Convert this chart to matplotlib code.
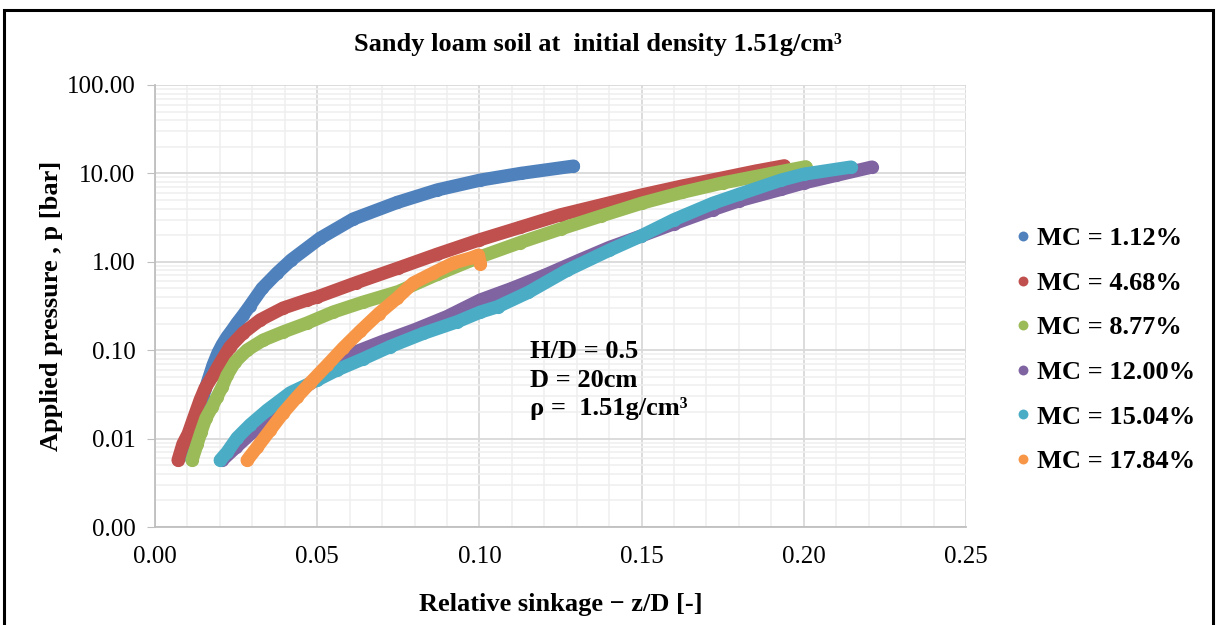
import matplotlib
matplotlib.use("Agg")
import matplotlib.pyplot as plt
from matplotlib.patches import Rectangle
from matplotlib.ticker import FixedLocator, FuncFormatter, MultipleLocator, LogLocator
import numpy as np

plt.rcParams['font.family'] = ['Liberation Serif', 'DejaVu Serif']

# series (relative sinkage z/D, applied pressure in bar)
labels = ["MC = 1.12%", "MC = 4.68%", "MC = 8.77%", "MC = 12.00%", "MC = 15.04%", "MC = 17.84%"]
colors = ["#4f81bd", "#c0504d", "#9bbb59", "#8064a2", "#4bacc6", "#f79646"]

x_mc1 = [0.0102, 0.0120, 0.0130, 0.0140, 0.0148, 0.0164, 0.0179, 0.0194, 0.0207, 0.0222, 0.0238,
         0.0253, 0.0272, 0.0293, 0.0330, 0.0377, 0.0420, 0.0509, 0.0611, 0.0747, 0.0870, 0.1003,
         0.1127, 0.1290]
p_mc1 = [0.0065, 0.0095, 0.0116, 0.020, 0.030, 0.046, 0.068, 0.093, 0.115, 0.141, 0.169,
         0.203, 0.25, 0.32, 0.50, 0.75, 1.05, 1.85, 3.05, 4.7, 6.5, 8.4,
         10.0, 12.1]

x_mc2 = [0.0071, 0.0086, 0.0102, 0.0117, 0.0139, 0.0154, 0.0179, 0.0201, 0.0231, 0.0272, 0.0324,
         0.0395, 0.0469, 0.0500, 0.0620, 0.0750, 0.0870, 0.1000, 0.1125, 0.1250, 0.1375, 0.1500,
         0.1625, 0.1750, 0.1850, 0.1940]
p_mc2 = [0.0057, 0.0087, 0.0113, 0.0162, 0.0273, 0.037, 0.052, 0.072, 0.109, 0.157, 0.22,
         0.30, 0.37, 0.40, 0.58, 0.85, 1.22, 1.77, 2.45, 3.4, 4.4, 5.7,
         7.2, 8.9, 10.6, 12.2]

x_mc3 = [0.0114, 0.0130, 0.0142, 0.0157, 0.0176, 0.0191, 0.0207, 0.0222, 0.0247, 0.0284, 0.0333,
         0.0395, 0.0469, 0.0549, 0.0642, 0.0750, 0.0870, 0.1000, 0.1125, 0.1250, 0.1375, 0.1500,
         0.1625, 0.1750, 0.1900, 0.2006]
p_mc3 = [0.0057, 0.0087, 0.0119, 0.0171, 0.0228, 0.0296, 0.0384, 0.052, 0.074, 0.1005, 0.130,
         0.161, 0.203, 0.27, 0.35, 0.46, 0.72, 1.13, 1.65, 2.35, 3.3, 4.6,
         6.1, 7.8, 10.0, 11.9]

x_mc4 = [0.0207, 0.025, 0.030, 0.035, 0.040, 0.045, 0.050, 0.055, 0.060, 0.070, 0.080, 0.090,
         0.1003, 0.110, 0.120, 0.131, 0.140, 0.1497, 0.160, 0.172, 0.180, 0.193, 0.200, 0.210, 0.221]
p_mc4 = [0.0057, 0.0080, 0.0118, 0.0175, 0.025, 0.035, 0.048, 0.068, 0.090, 0.125, 0.17, 0.24,
         0.37, 0.50, 0.70, 1.05, 1.45, 1.95, 2.7, 3.9, 4.9, 6.6, 7.8, 9.5, 11.8]

x_mc5 = [0.0201, 0.0222, 0.0253, 0.0293, 0.0346, 0.0417, 0.0500, 0.0562, 0.0642, 0.0725, 0.0827,
         0.0932, 0.1003, 0.1056, 0.1150, 0.1270, 0.1400, 0.1497, 0.1600, 0.1720, 0.1800, 0.1930,
         0.2000, 0.2145]
p_mc5 = [0.0057, 0.0070, 0.0102, 0.0143, 0.021, 0.033, 0.046, 0.060, 0.080, 0.11, 0.155,
         0.21, 0.27, 0.31, 0.45, 0.80, 1.35, 1.95, 3.0, 4.6, 5.8, 8.4,
         9.8, 11.8]

x_mc6 = [0.0284, 0.0315, 0.0355, 0.0395, 0.0438, 0.0478, 0.0531, 0.0580, 0.0633, 0.0690, 0.0747,
         0.0796, 0.0858, 0.0920, 0.0972, 0.0997, 0.1003]
p_mc6 = [0.0057, 0.0080, 0.0125, 0.0195, 0.0296, 0.0426, 0.068, 0.106, 0.165, 0.26, 0.39,
         0.575, 0.75, 0.97, 1.10, 1.19, 0.95]

xs = [x_mc1, x_mc2, x_mc3, x_mc4, x_mc5, x_mc6]
ps = [p_mc1, p_mc2, p_mc3, p_mc4, p_mc5, p_mc6]

fig = plt.figure(figsize=(12.2, 6.25), dpi=100)
ax = fig.add_axes([155/1220, 1-527/625, (966-155)/1220, (527-85)/625])

for x, p, c, lab in zip(xs, ps, colors, labels):
    ax.plot(x, p, "-", color=c, lw=9.5, solid_capstyle="round", solid_joinstyle="round", zorder=3)
    ax.plot(x, p, "o", color=c, ms=9.5, mew=0, zorder=3, label=lab)

ax.set_yscale("log")
ax.set_xlim(0, 0.25)
ax.set_ylim(0.001, 100)
ax.xaxis.set_major_locator(MultipleLocator(0.05))
ax.xaxis.set_minor_locator(MultipleLocator(0.01))
ax.yaxis.set_major_locator(FixedLocator([0.001, 0.01, 0.1, 1, 10, 100]))
ax.yaxis.set_minor_locator(LogLocator(base=10, subs=np.arange(2, 10)))
ax.yaxis.set_major_formatter(FuncFormatter(lambda v, pos: "%.2f" % v))
ax.yaxis.set_minor_formatter(FuncFormatter(lambda v, pos: ""))
ax.xaxis.set_major_formatter(FuncFormatter(lambda v, pos: "%.2f" % v))

ax.grid(which="major", color="#d9d9d9", lw=1.3, zorder=0)
ax.grid(which="minor", color="#efefef", lw=1.1, zorder=0)
ax.set_axisbelow(True)
for s in ["top", "right"]:
    ax.spines[s].set_visible(False)
for s in ["left", "bottom"]:
    ax.spines[s].set_color("#bfbfbf")
    ax.spines[s].set_linewidth(1.3)
ax.tick_params(which="major", axis="y", length=6, color="#bfbfbf", labelsize=18, pad=8)
ax.tick_params(which="major", axis="x", length=0, labelsize=18, pad=14)
ax.tick_params(which="minor", length=0)

ax.set_xlabel("Relative sinkage − z/D [-]", fontsize=19, fontweight="bold", labelpad=18)
ax.set_ylabel("Applied pressure , p [bar]", fontsize=19, fontweight="bold", labelpad=3)
fig.text(0.49, 0.928, "Sandy loam soil at  initial density 1.51g/cm³",
         ha="center", va="center", fontsize=19, fontweight="bold")

ax.text(0.1157, 0.13, "H/D = 0.5\nD = 20cm\nρ =  1.51g/cm³", fontsize=19, fontweight="bold",
        va="top", ha="left", linespacing=1.3, transform=ax.transData)

fig.legend(loc="center left", bbox_to_anchor=(986/1220, 1-350/625), frameon=False,
           prop={"size": 19, "weight": "bold"}, markerscale=0.75, handletextpad=0.05,
           labelspacing=0.8, handlelength=1.0)

fig.patches.append(Rectangle((4/1220, -0.02), (1213-4)/1220, 1-10/625+0.02, transform=fig.transFigure,
                             fill=False, ec="black", lw=2.2))

fig.savefig("out.png", dpi=100)
